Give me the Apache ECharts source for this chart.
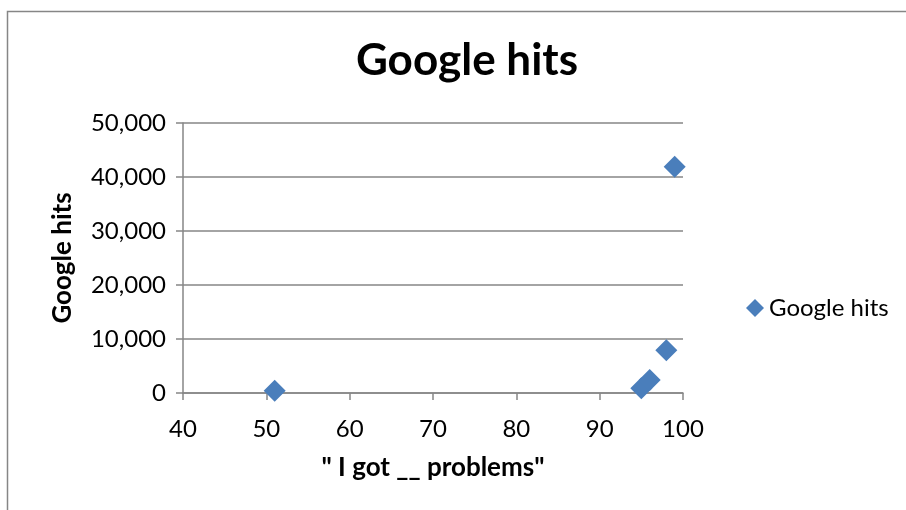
<!DOCTYPE html>
<html><head><meta charset="utf-8">
<script src="https://cdn.jsdelivr.net/npm/echarts@6/dist/echarts.min.js"></script>
<style>html,body{margin:0;padding:0;background:#fff}#c{width:906px;height:510px}</style>
</head><body><div id="c"></div>
<script>
const seriesName = 'Google hits';
const xValues = [51, 95, 96, 98, 99];
const yValues = [400, 900, 2400, 7900, 41900];
const points = xValues.map((x, i) => [x, yValues[i]]);
const font = 'Lato, "Open Sans", sans-serif';
const chart = echarts.init(document.getElementById('c'));
chart.setOption({
  animation: false,
  graphic: [{type: 'rect', shape: {x: 7.5, y: 11.5, width: 920, height: 520}, style: {fill: 'none', stroke: '#868686', lineWidth: 1.5}, silent: true}],
  title: {text: 'Google hits', left: 462, top: 34, textAlign: 'center',
    textStyle: {fontFamily: font, fontSize: 44, fontWeight: 'bold', color: '#000'}},
  legend: {data: [{name: seriesName, icon: 'diamond'}], left: 741, top: 291, itemWidth: 18, itemHeight: 18, itemGap: 3,
    textStyle: {fontFamily: font, fontSize: 24, color: '#000', padding: [0, 0, 0, 0]}},
  grid: {left: 183, top: 123, width: 500, height: 270, containLabel: false},
  xAxis: {type: 'value', min: 40, max: 100, interval: 10,
    name: '" I got __ problems"', nameLocation: 'middle', nameGap: 62,
    nameTextStyle: {fontFamily: font, fontSize: 26, fontWeight: 'bold', color: '#000'},
    axisLine: {show: true, lineStyle: {color: '#868686', width: 1.5}},
    axisTick: {show: true, length: 7, lineStyle: {color: '#868686', width: 1.5}},
    axisLabel: {fontFamily: font, fontSize: 24, color: '#000', margin: 24},
    splitLine: {show: false}},
  yAxis: {type: 'value', min: 0, max: 50000, interval: 10000,
    name: 'Google hits', nameLocation: 'middle', nameGap: 107, nameRotate: 90,
    nameTextStyle: {fontFamily: font, fontSize: 26, fontWeight: 'bold', color: '#000'},
    axisLine: {show: true, lineStyle: {color: '#868686', width: 1.5}},
    axisTick: {show: true, length: 7, lineStyle: {color: '#868686', width: 1.5}},
    axisLabel: {fontFamily: font, fontSize: 24, color: '#000', margin: 17,
      formatter: v => v.toLocaleString('en-US')},
    splitLine: {show: true, lineStyle: {color: '#868686', width: 1.5}}},
  series: [{name: seriesName, type: 'scatter', symbol: 'diamond', symbolSize: 22,
    itemStyle: {color: '#4a7ebb', opacity: 1}, data: points}]
});
</script></body></html>
